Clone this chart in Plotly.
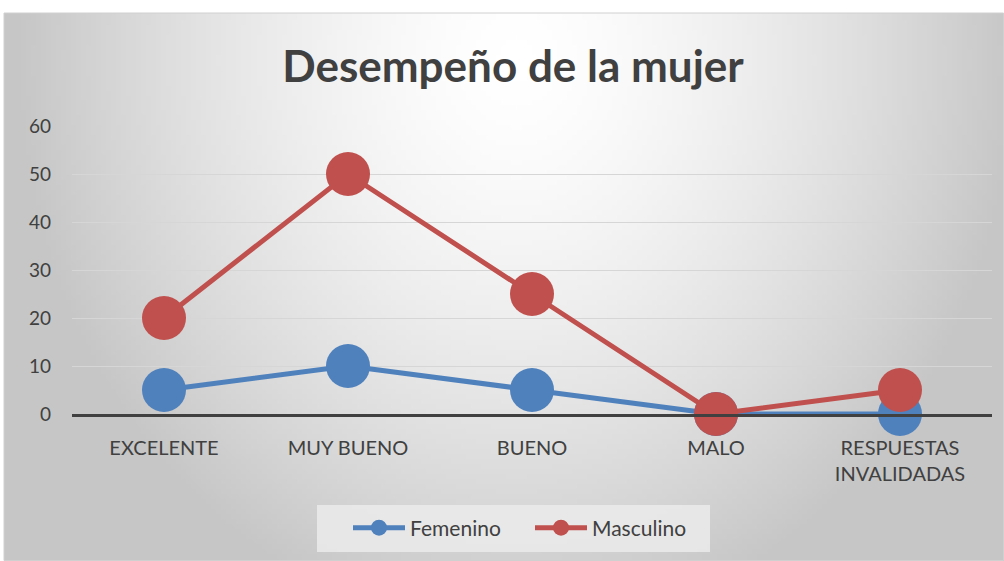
import base64, struct, zlib, math
import plotly.graph_objects as go

categories = ["EXCELENTE", "MUY BUENO", "BUENO", "MALO", "RESPUESTAS<br>INVALIDADAS"]
femenino = [5, 10, 5, 0, 0]
masculino = [20, 50, 25, 0, 5]
y_ticks = [0, 10, 20, 30, 40, 50, 60]

W, H = 1004, 561
L, R, T, B = 72, 12, 126, 147
PW, PH = W - L - R, H - T - B


def px_x(px):
    return (px - L) / PW


def px_y(py):
    return (H - B - py) / PH


def gradient_png(w, h):
    rows = []
    cx, cy = w * 0.51, h * 0.08
    for j in range(h):
        row = bytearray([0])
        for i in range(w):
            dx = (i - cx) / (w * 0.5)
            dy = (j - cy) / (h * 1.05)
            d = math.sqrt(dx * dx + dy * dy)
            c = max(198, 255 - 57 * d ** 1.5)
            c = int(round(c))
            row += bytes([c, c, c])
        rows.append(bytes(row))
    raw = b"".join(rows)

    def chunk(t, data):
        return struct.pack(">I", len(data)) + t + data + struct.pack(">I", zlib.crc32(t + data) & 0xffffffff)

    png = b"\x89PNG\r\n\x1a\n"
    png += chunk(b"IHDR", struct.pack(">IIBBBBB", w, h, 8, 2, 0, 0, 0))
    png += chunk(b"IDAT", zlib.compress(raw, 9))
    png += chunk(b"IEND", b"")
    return "data:image/png;base64," + base64.b64encode(png).decode()


bg = gradient_png(200, 110)

FONT = "Lato, 'Open Sans', sans-serif"

fig = go.Figure()
fig.add_trace(go.Scatter(
    x=categories, y=femenino, name="Femenino", mode="lines+markers",
    line=dict(color="#4f81bd", width=5),
    marker=dict(color="#4f81bd", size=44),
    cliponaxis=False,
))
fig.add_trace(go.Scatter(
    x=categories, y=masculino, name="Masculino", mode="lines+markers",
    line=dict(color="#c0504d", width=5),
    marker=dict(color="#c0504d", size=44),
    cliponaxis=False,
))

fig.update_layout(
    width=W, height=H, autosize=False,
    margin=dict(l=L, r=R, t=T, b=B),
    paper_bgcolor="white",
    plot_bgcolor="rgba(0,0,0,0)",
    font=dict(family=FONT, color="#404040", size=19),
    title=dict(
        text="<b>Desempeño de la mujer</b>",
        x=513 / W, xref="container", xanchor="center",
        y=1 - 67 / H, yref="container", yanchor="middle",
        font=dict(family=FONT, size=44, color="#404040"),
    ),
    showlegend=True,
    legend=dict(
        orientation="h",
        x=px_x(530), xanchor="center",
        y=px_y(528), yanchor="middle",
        bgcolor="rgba(0,0,0,0)",
        font=dict(family=FONT, size=21, color="#404040"),
        itemwidth=52,
        entrywidth=115,
    ),
    images=[dict(
        source=bg, xref="paper", yref="paper",
        x=px_x(4), y=px_y(13), sizex=(W - 4) / PW, sizey=(H - 13) / PH,
        xanchor="left", yanchor="top", sizing="stretch", layer="below",
    )],
    shapes=[
        dict(type="rect", xref="paper", yref="paper",
             x0=px_x(4), x1=px_x(1003.5), y0=px_y(13), y1=px_y(560.5),
             line=dict(color="#d0d0d0", width=1), fillcolor="rgba(0,0,0,0)", layer="below"),
        dict(type="rect", xref="paper", yref="paper",
             x0=px_x(317), x1=px_x(710), y0=px_y(505), y1=px_y(552),
             line=dict(width=0), fillcolor="rgba(235,235,235,0.85)", layer="below"),
    ],
)

fig.update_xaxes(
    type="category", showgrid=False, showline=True,
    linecolor="#404040", linewidth=3, ticks="",
    ticklabelstandoff=14, tickfont=dict(size=20, color="#404040"),
    range=[-0.5, 4.5],
)
fig.update_yaxes(
    range=[0, 60], tickvals=y_ticks, showgrid=True,
    gridcolor="#d6d6d6", gridwidth=1, zeroline=False, showline=False,
    ticks="", ticklabelstandoff=20, tickfont=dict(size=19, color="#404040"),
)

fig.write_html("out.html", config={"displayModeBar": False},
               post_script="document.body.style.margin='0px';")
